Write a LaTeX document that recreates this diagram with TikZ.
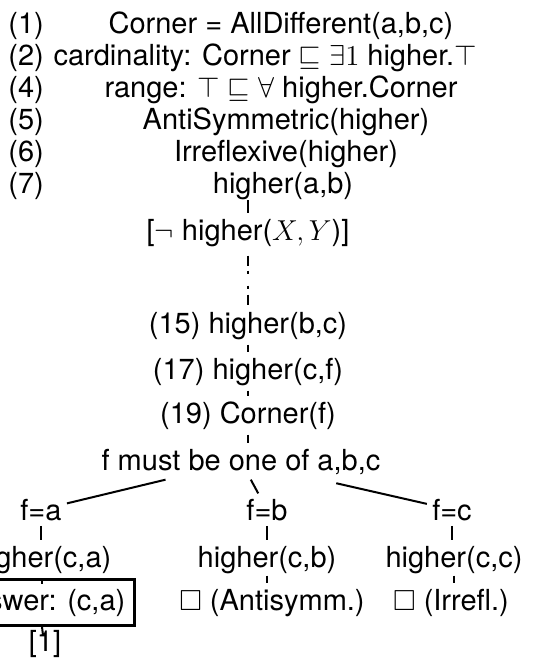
\documentclass[tikz,border=0pt]{standalone}
\usepackage{amsmath,amssymb}
\usepackage[no-math]{fontspec}
\setmainfont{TeX Gyre Heros}
\usetikzlibrary{positioning}
\newcommand{\proofFont}{\fontsize{14.5}{16}\selectfont}
\tikzset{
  axiomLabel/.style={anchor=base west, inner sep=0pt, font=\proofFont},
  axiomText/.style={anchor=base, inner sep=0pt, font=\proofFont},
  proofStep/.style={anchor=base, inner sep=2.5pt, font=\proofFont},
  answerBox/.style={
    proofStep,
    draw,
    line width=1.5pt,
    inner xsep=4.5pt,
    inner ysep=4.5pt
  },
  treeEdge/.style={line width=1pt},
  skipEdge/.style={
    treeEdge,
    dash pattern=on 5pt off 2.5pt on 1.5pt off 6pt on 1.5pt off 3pt on 5pt off 4pt,
    dash phase=26.5pt
  }
}

\begin{document}
\begin{tikzpicture}[x=0.5pt,y=-0.5pt]
  \useasboundingbox (0,0) rectangle (548,661);
  \foreach \n/\y/\x/\lab in {
      1/33/281/{Corner = AllDifferent(a,b,c)},
      2/65/265/{cardinality: Corner $\sqsubseteq \exists 1$ higher.$\top$},
      4/97/281/{range: $\top \sqsubseteq \forall$ higher.Corner},
      5/129/286/{AntiSymmetric(higher)},
      6/161/286/{Irreflexive(higher)},
      7/193/283/{higher(a,b)}} {
    \node[axiomLabel] (l\n) at (8,\y) {(\n)};
    \node[axiomText] (a\n) at (\x,\y) {\lab};
  }

  \coordinate (hook) at (248,200);
  \node[proofStep] (neg) at (248,240) {[$\neg$ higher($X,Y$)]};
  \node[proofStep] (s15) at (248,333) {(15) higher(b,c)};
  \node[proofStep] (s17) at (248,379) {(17) higher(c,f)};
  \node[proofStep] (s19) at (248,423) {(19) Corner(f)};
  \node[proofStep] (split) at (241,470) {f must be one of a,b,c};

  \node[proofStep] (fa) at (41,520) {f=a};
  \node[proofStep] (fb) at (267,520) {f=b};
  \node[proofStep] (fc) at (452,520) {f=c};
  \node[proofStep] (hca) at (42,567) {higher(c,a)};
  \node[proofStep] (hcb) at (267,567) {higher(c,b)};
  \node[proofStep] (hcc) at (454,567) {higher(c,c)};
  \node[answerBox] (ans) at (39,610) {Answer: (c,a)};
  \node[proofStep] (antisym) at (272,610) {$\square$ (Antisymm.)};
  \node[proofStep] (irrefl) at (451,610) {$\square$ (Irrefl.)};
  \node[proofStep] (ref) at (45,651) {[1]};
  \coordinate (refTop) at (43,635);

  \draw[treeEdge] (hook) -- (neg);
  \draw[skipEdge] (neg) -- (s15);
  \draw[treeEdge] (s15) -- (s17);
  \draw[treeEdge] (s17) -- (s19);
  \draw[treeEdge] (s19) -- (s19 |- split.north);
  \draw[treeEdge] (split) -- (fa);
  \draw[treeEdge] (split) -- (fb);
  \draw[treeEdge, shorten <=8pt] (split) -- (fc);
  \draw[treeEdge] (fa) -- (fa |- hca.north);
  \draw[treeEdge] (fb) -- (fb |- hcb.north);
  \draw[treeEdge] (fc) -- (fc |- hcc.north);
  \draw[treeEdge, shorten <=-2.5pt] (hca) -- (hca |- ans.north);
  \draw[treeEdge, shorten <=-1.5pt] (hcb) -- (hcb |- antisym.north);
  \draw[treeEdge, shorten <=-1.5pt] (hcc) -- (hcc |- irrefl.north);
  \draw[treeEdge] (ans) -- (refTop);
\end{tikzpicture}
\end{document}
